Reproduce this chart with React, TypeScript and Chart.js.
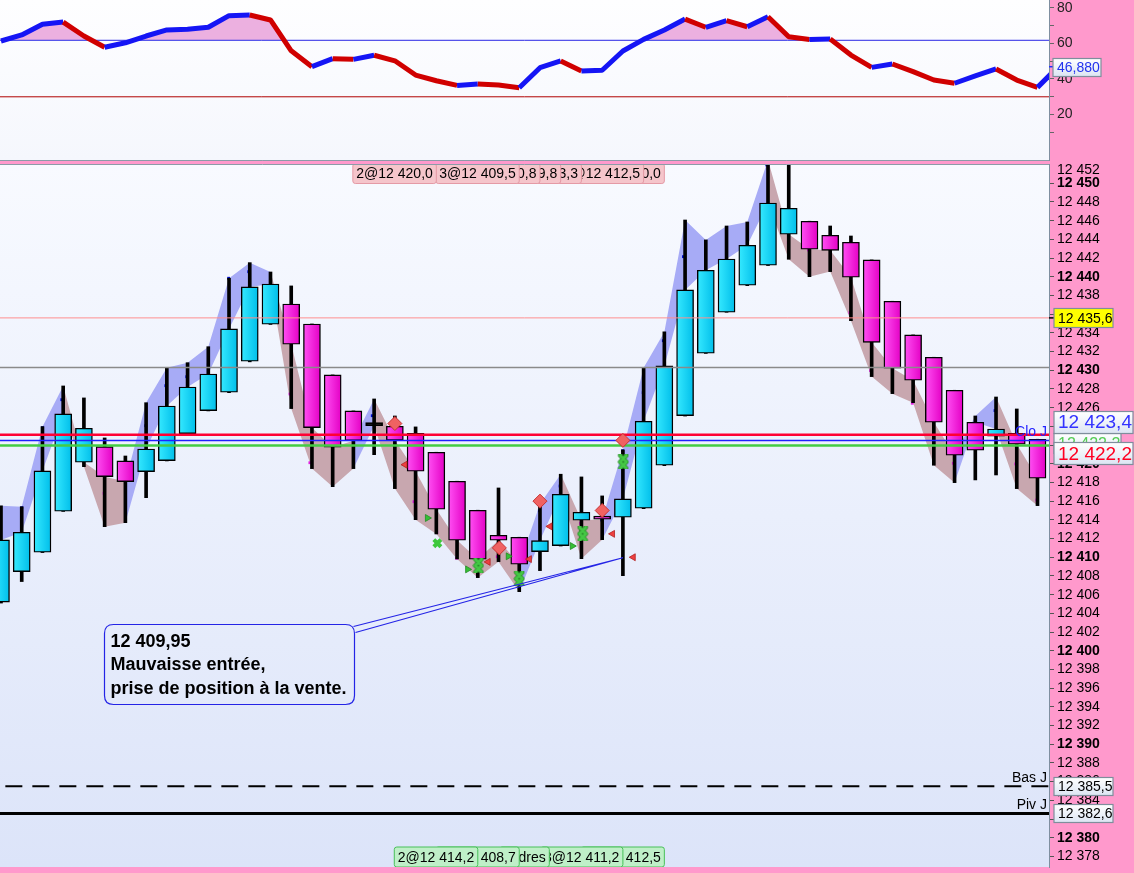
import React, { useEffect, useRef } from 'react';
import { Chart, registerables } from 'chart.js';

Chart.register(...registerables);

const FONT = '"Liberation Sans", Arial, Helvetica, sans-serif';
const PINK = '#FF99CC';

// ---------- candles (index 0..50) ----------
const opens = [12405.2, 12408.46, 12410.53, 12414.92, 12420.16, 12421.83, 12420.3, 12419.16, 12420.33, 12423.22, 12425.68, 12427.65, 12430.96, 12434.92, 12437.09, 12434.95, 12429.5, 12425.65, 12424.07, 12424.01, 12423.26, 12421.23, 12418.13, 12415.03, 12412.35, 12412.14, 12410.6, 12411.24, 12413.96, 12414.39, 12414.28, 12415.24, 12419.84, 12425.14, 12431.82, 12436.2, 12439.09, 12441.23, 12444.55, 12445.94, 12444.44, 12443.69, 12441.8, 12437.38, 12433.78, 12431.39, 12427.86, 12424.44, 12422.94, 12423.26, 12422.62];
const highs = [12415.5, 12415.4, 12423.97, 12428.32, 12427.04, 12422.76, 12420.83, 12426.53, 12430.28, 12430.81, 12432.52, 12439.84, 12441.51, 12440.51, 12439.02, 12434.95, 12429.5, 12425.65, 12426.93, 12425.11, 12423.94, 12421.23, 12418.13, 12415.03, 12417.41, 12412.14, 12415.7, 12418.88, 12418.59, 12416.56, 12421.48, 12430.28, 12434.1, 12446.07, 12443.94, 12445.43, 12445.86, 12452.5, 12452.5, 12445.94, 12445.43, 12444.36, 12441.8, 12437.38, 12433.78, 12431.39, 12427.86, 12425.11, 12427.14, 12425.86, 12422.62];
const lows = [12405.1, 12407.4, 12410.5, 12414.9, 12419.69, 12413.27, 12413.7, 12416.37, 12420.3, 12423.2, 12425.65, 12427.6, 12430.9, 12434.9, 12425.9, 12419.48, 12417.55, 12419.48, 12420.97, 12417.34, 12414.02, 12412.49, 12409.82, 12407.82, 12409.53, 12406.32, 12408.57, 12411.2, 12409.85, 12411.88, 12408.03, 12415.2, 12419.8, 12425.1, 12431.8, 12436.2, 12439.05, 12441.2, 12441.87, 12440.01, 12440.55, 12435.3, 12429.32, 12427.5, 12426.53, 12419.84, 12417.98, 12418.27, 12418.8, 12417.34, 12415.52];
const closes = [12411.85, 12412.67, 12419.23, 12425.33, 12423.8, 12418.62, 12418.09, 12421.58, 12426.18, 12428.21, 12429.6, 12434.42, 12438.91, 12439.23, 12432.78, 12423.86, 12421.76, 12422.47, 12424.07, 12422.51, 12419.2, 12415.13, 12411.82, 12409.79, 12411.82, 12409.25, 12411.78, 12416.74, 12414.81, 12414.06, 12416.24, 12424.55, 12430.46, 12438.59, 12440.7, 12441.9, 12443.37, 12447.89, 12447.33, 12442.94, 12442.83, 12439.95, 12432.99, 12430.21, 12428.93, 12424.44, 12420.91, 12421.44, 12423.72, 12422.09, 12418.45];
// trend state of the shaded ribbon at each candle (1 = up / blue, -1 = down / brown)
const ribbonState = [1, 1, 1, 1, -1, -1, -1, 1, 1, 1, 1, 1, 1, 1, -1, -1, -1, -1, 1, -1, -1, -1, -1, -1, -1, -1, 1, 1, -1, -1, 1, 1, 1, 1, 1, 1, 1, 1, -1, -1, -1, -1, -1, -1, -1, -1, -1, 1, 1, -1, -1];

// small trailing-stop dots
const stopUpDots = [{ x: 1, y: 12415.3 }, { x: 2, y: 12423.86 }, { x: 2.93, y: 12426.85 }, { x: 6, y: 12420.54 }, { x: 6.98, y: 12424.07 }, { x: 7.95, y: 12428.35 }, { x: 8.96, y: 12429.31 }, { x: 10, y: 12430.56 }, { x: 10.98, y: 12439.84 }, { x: 11.95, y: 12440.54 }, { x: 17.91, y: 12425.14 }, { x: 25.97, y: 12414.98 }, { x: 26.97, y: 12417.62 }, { x: 28.98, y: 12413.98 }, { x: 29.99, y: 12421.4 }, { x: 30.98, y: 12427.6 }, { x: 31.95, y: 12433.16 }, { x: 32.92, y: 12442.15 }, { x: 35, y: 12444.65 }, { x: 36.94, y: 12451.96 }, { x: 47.95, y: 12425.68 }];
const stopDownDots = [{ x: 4.97, y: 12416.84 }, { x: 13.94, y: 12427.46 }, { x: 14.9, y: 12420.11 }, { x: 19.92, y: 12415.94 }, { x: 21.02, y: 12412.63 }, { x: 21.98, y: 12409.89 }, { x: 23.94, y: 12410.06 }, { x: 27.96, y: 12413.63 }, { x: 37.98, y: 12443.65 }, { x: 38.95, y: 12442.87 }, { x: 40.95, y: 12436.16 }, { x: 41.95, y: 12429.96 }, { x: 43.96, y: 12426.47 }, { x: 44.98, y: 12422.19 }, { x: 45.94, y: 12420.05 }, { x: 48.95, y: 12419.98 }, { x: 49.96, y: 12416.12 }];

// ---------- oscillator (index 0..51) ----------
const rsiValues = [61.3, 64.7, 70.7, 71.9, 64.1, 57.8, 60.3, 64.1, 67.5, 67.9, 69.0, 75.5, 75.9, 73.1, 55.8, 46.9, 51.4, 51.0, 53.3, 50.2, 42.2, 39.0, 36.4, 37.2, 36.6, 35.1, 46.3, 50.1, 44.5, 44.9, 55.7, 62.2, 67.5, 73.6, 69.0, 72.7, 69.3, 74.9, 63.7, 62.2, 62.4, 53.4, 46.5, 48.4, 44.1, 39.4, 37.6, 41.7, 45.6, 39.4, 35.3, 46.88];
const rsiHigh = 61.7;
const rsiLow = 30;
const rsiTickLabels = [20, 40, 60, 80];

// ---------- horizontal levels ----------
const levelPrices = [12435.6, 12430.3, 12423.1, 12422.5, 12421.95, 12385.5, 12382.6];
const levelColors = ['#FF8F8F', '#8A8A8A', '#FF0033', '#2020FF', '#44CC44', '#000000', '#000000'];
const levelWidths = [1, 1.5, 2.5, 1.5, 2.5, 2, 3];
const levelNames = ['', '', '', 'Clo J', '', 'Bas J', 'Piv J'];

// ---------- axis value tags ----------
const tagYellow = 12435.6;
const tagBlue = 12423.4;
const tagGreen = 12422.2;
const tagRed = 12422.2;
const topPriceTick = 12452;

// ---------- signals ----------
const sellDiamonds = [{ x: 19, y: 12424.3 }, { x: 24.04, y: 12411.0 }, { x: 26, y: 12416.0 }, { x: 29, y: 12415.0 }, { x: 30, y: 12422.5 }];
const redTriangles = [{ x: 19.49, y: 12419.9 }, { x: 23.5, y: 12409.5 }, { x: 25.49, y: 12409.8 }, { x: 26.48, y: 12413.3 }, { x: 29.5, y: 12412.5 }, { x: 30.5, y: 12410.0 }];
const greenTriangles = [{ x: 20.57, y: 12414.2 }, { x: 22.51, y: 12408.7 }, { x: 24.47, y: 12410.1 }, { x: 27.56, y: 12411.2 }];
const greenCrosses = [{ x: 21.05, y: 12411.5 }];
const greenClovers = [{ x: 23.03, y: 12409.1 }, { x: 25, y: 12407.7 }, { x: 28.06, y: 12412.5 }, { x: 30.02, y: 12420.2 }];

// ---------- trade tags (right edge at candle index) ----------
const sellTagIdx = [21, 25, 26, 27, 28, 31, 32];
const sellTagText = ['2@12 420,0', '3@12 409,5', '2@12 410,8', '2@12 409,8', '2@12 413,3', '2@12 412,5', '2@12 410,0'];
const buyTagIdx = [23, 25, 26.45, 30, 32];
const buyTagText = ['2@12 414,2', '2@12 408,7', 'Ordres', '3@12 411,2', '2@12 412,5'];

// ---------- note ----------
const noteIdx = 30;
const notePrice = 12409.95;
const noteLines = ['12 409,95', 'Mauvaisse entrée,', 'prise de position à la vente.'];

const X_MIN = -0.048;
const X_MAX = 50.555;

const fmtInt = (v: number) => {
  const n = Math.round(v);
  return `${Math.floor(n / 1000)} ${String(n % 1000).padStart(3, '0')}`;
};
const fmtDec = (v: number, d: number) => {
  const s = v.toFixed(d);
  const [ip, dp] = s.split('.');
  return `${ip.slice(0, ip.length - 3)} ${ip.slice(-3)},${dp}`;
};

function roundRect(ctx: any, x: number, y: number, w: number, h: number, r: number) {
  ctx.beginPath();
  ctx.moveTo(x + r, y);
  ctx.lineTo(x + w - r, y);
  ctx.quadraticCurveTo(x + w, y, x + w, y + r);
  ctx.lineTo(x + w, y + h - r);
  ctx.quadraticCurveTo(x + w, y + h, x + w - r, y + h);
  ctx.lineTo(x + r, y + h);
  ctx.quadraticCurveTo(x, y + h, x, y + h - r);
  ctx.lineTo(x, y + r);
  ctx.quadraticCurveTo(x, y, x + r, y);
  ctx.closePath();
}

function axisTag(ctx: any, left: number, cy: number, w: number, h: number, text: string, font: string, color: string, fill?: string) {
  if (!Number.isFinite(cy)) return;
  const top = Math.round(cy - h / 2) + 0.5;
  if (fill) {
    ctx.fillStyle = fill;
  } else {
    const g = ctx.createLinearGradient(0, top, 0, top + h);
    g.addColorStop(0, '#FFFFFF');
    g.addColorStop(1, '#DCE5F3');
    ctx.fillStyle = g;
  }
  ctx.fillRect(left, top, w, h);
  ctx.strokeStyle = '#7F8E9C';
  ctx.lineWidth = 1.2;
  ctx.strokeRect(left, top, w, h);
  ctx.fillStyle = color;
  ctx.font = font;
  ctx.textAlign = 'left';
  ctx.textBaseline = 'middle';
  ctx.fillText(text, left + 4, cy + 1);
}

function makeClover() {
  const c = document.createElement('canvas');
  c.width = 12;
  c.height = 15;
  const g = c.getContext('2d') as CanvasRenderingContext2D;
  const drawX = (cx: number, cy: number, color: string, lw: number) => {
    g.strokeStyle = color;
    g.lineWidth = lw;
    g.lineCap = 'round';
    g.beginPath();
    g.moveTo(cx - 3, cy - 3);
    g.lineTo(cx + 3, cy + 3);
    g.moveTo(cx + 3, cy - 3);
    g.lineTo(cx - 3, cy + 3);
    g.stroke();
  };
  drawX(6, 4.2, '#2B8F2B', 4.4);
  drawX(6, 10.8, '#2B8F2B', 4.4);
  drawX(6, 4.2, '#45C845', 2.8);
  drawX(6, 10.8, '#45C845', 2.8);
  return c;
}

export default function App() {
  const rsiRef = useRef<HTMLCanvasElement | null>(null);
  const mainRef = useRef<HTMLCanvasElement | null>(null);

  useEffect(() => {
    document.body.style.margin = '0';
    const idx = opens.map((_, i) => i);
    const rsiIdx = rsiValues.map((_, i) => i);

    // ================= oscillator panel =================
    const rsiDecor = {
      id: 'rsiDecor',
      beforeDraw(chart: any) {
        const { ctx, chartArea: a } = chart;
        if (!a) return;
        ctx.save();
        ctx.fillStyle = PINK;
        ctx.fillRect(0, 0, chart.width, chart.height);
        const g = ctx.createLinearGradient(0, a.top, 0, a.bottom);
        g.addColorStop(0, '#FEFEFF');
        g.addColorStop(1, '#F5F7FD');
        ctx.fillStyle = g;
        ctx.fillRect(a.left, a.top, a.right - a.left, a.bottom - a.top);
        ctx.restore();
      },
      afterDraw(chart: any) {
        const { ctx, chartArea: a, scales } = chart;
        ctx.save();
        ctx.strokeStyle = '#8C9AA8';
        ctx.lineWidth = 1;
        ctx.beginPath();
        ctx.moveTo(a.left, a.bottom + 0.5);
        ctx.lineTo(a.right, a.bottom + 0.5);
        ctx.stroke();
        const last = rsiValues[rsiValues.length - 1];
        const y = scales.y.getPixelForValue(last);
        ctx.strokeStyle = '#2030FF';
        ctx.lineWidth = 1.5;
        ctx.beginPath();
        ctx.moveTo(a.right, y);
        ctx.lineTo(a.right + 5, y);
        ctx.stroke();
        axisTag(ctx, a.right + 4, y, 48, 18, last.toFixed(3).replace('.', ','), `14px ${FONT}`, '#2233EE');
        ctx.restore();
      },
    };

    const rsiChart = new Chart(rsiRef.current as HTMLCanvasElement, {
      type: 'line',
      data: {
        datasets: [
          {
            data: rsiIdx.map((i) => ({ x: i, y: rsiValues[i] })),
            borderWidth: 0,
            pointRadius: 0,
            fill: { target: { value: rsiHigh }, above: '#ECB0E0', below: 'rgba(0,0,0,0)' },
            order: 10,
            clip: 0,
          } as any,
          {
            data: [{ x: -5, y: rsiHigh }, { x: 60, y: rsiHigh }],
            borderColor: '#2A2AE6',
            borderWidth: 1,
            pointRadius: 0,
            fill: false,
            order: 8,
            clip: 0,
          },
          {
            data: [{ x: -5, y: rsiLow }, { x: 60, y: rsiLow }],
            borderColor: '#B00000',
            borderWidth: 1,
            pointRadius: 0,
            fill: false,
            order: 8,
            clip: 0,
          },
          {
            data: rsiIdx.map((i) => ({ x: i, y: rsiValues[i] })),
            borderWidth: 5,
            borderColor: '#1515F5',
            pointRadius: 0,
            fill: false,
            borderJoinStyle: 'bevel',
            segment: {
              borderColor: (c: any) => (c.p1.parsed.y >= c.p0.parsed.y ? '#1515F5' : '#D00000'),
            },
            order: 1,
            clip: 0,
          } as any,
        ],
      },
      options: {
        responsive: false,
        animation: false,
        devicePixelRatio: 1,
        events: [],
        layout: { autoPadding: false, padding: { left: 0, right: 0, top: 0, bottom: 2 } },
        plugins: { legend: { display: false }, tooltip: { enabled: false } },
        scales: {
          x: { type: 'linear', min: X_MIN, max: X_MAX, display: false, offset: false },
          y: {
            position: 'right',
            min: -5.45,
            max: 84.3,
            afterFit: (s: any) => {
              s.width = 85;
              s.paddingTop = 0;
              s.paddingBottom = 0;
            },
            ticks: {
              stepSize: 10,
              includeBounds: false,
              autoSkip: false,
              padding: 3,
              color: '#222',
              font: { family: FONT, size: 14 },
              callback: (v: any) => (rsiTickLabels.includes(Number(v)) ? String(v) : ''),
            },
            grid: {
              drawOnChartArea: false,
              drawTicks: true,
              tickLength: 5,
              color: (c: any) => (c.tick && c.tick.value > 0 ? '#666' : 'rgba(0,0,0,0)'),
            },
            border: { display: true, color: '#7F8FA0', width: 1 },
          },
        } as any,
      },
      plugins: [rsiDecor],
    } as any);

    // ================= price panel =================
    const bodyFill = (c: any) => {
      const i = c.dataIndex;
      const xs = c.chart.scales && c.chart.scales.x;
      if (i === undefined || !xs) return '#00D0F0';
      const o = opens[i];
      const cl = closes[i];
      if (cl === o) return '#000';
      const x = xs.getPixelForValue(i);
      if (!Number.isFinite(x)) return cl > o ? '#1AD8F8' : '#F528E0';
      const g = c.chart.ctx.createLinearGradient(x - 8.5, 0, x + 8.5, 0);
      if (cl > o) {
        g.addColorStop(0, '#36E9FF');
        g.addColorStop(1, '#00BEEA');
      } else {
        g.addColorStop(0, '#FF50F3');
        g.addColorStop(1, '#E400C5');
      }
      return g;
    };

    const ribbonUpper = idx.map((i) => (ribbonState[i] > 0 ? highs[i] : Math.min(opens[i], closes[i])));
    const ribbonLower = idx.map((i) => (ribbonState[i] > 0 ? Math.max(opens[i], closes[i]) : lows[i]));
    const RIB_UP = '#A7ABF6';
    const RIB_DN = '#C8A7AF';

    const levelSets = levelPrices.map((p, k) => ({
      type: 'line',
      data: [{ x: -5, y: p }, { x: 60, y: p }],
      borderColor: levelColors[k],
      borderWidth: levelWidths[k],
      borderDash: k === 5 ? [17, 10] : [],
      pointRadius: 0,
      fill: false,
      order: 10,
      clip: 0,
    }));

    const clover = makeClover();

    const mainDecor = {
      id: 'mainDecor',
      beforeDraw(chart: any) {
        const { ctx, chartArea: a } = chart;
        if (!a) return;
        ctx.save();
        ctx.fillStyle = PINK;
        ctx.fillRect(0, 0, chart.width, chart.height);
        const g = ctx.createLinearGradient(0, a.top, 0, a.bottom);
        g.addColorStop(0, '#F8FAFF');
        g.addColorStop(1, '#DCE4F9');
        ctx.fillStyle = g;
        ctx.fillRect(a.left, a.top, a.right - a.left, a.bottom - a.top);
        ctx.restore();
      },
      afterDatasetsDraw(chart: any) {
        const { ctx, chartArea: a, scales } = chart;
        const xs = scales.x;
        const ys = scales.y;
        ctx.save();
        ctx.beginPath();
        ctx.rect(a.left, a.top, a.right - a.left, a.bottom - a.top);
        ctx.clip();

        // level names
        ctx.font = `14px ${FONT}`;
        ctx.textAlign = 'right';
        ctx.textBaseline = 'alphabetic';
        levelPrices.forEach((p, k) => {
          if (!levelNames[k]) return;
          ctx.fillStyle = k === 3 ? '#2222FF' : '#000';
          ctx.fillText(levelNames[k], a.right - 2, ys.getPixelForValue(p) - 4);
        });

        // note callout
        const tx = xs.getPixelForValue(noteIdx);
        const ty = ys.getPixelForValue(notePrice);
        const bl = a.left + 104.5;
        const bt = a.top + 460.5;
        const bw = 250;
        const bh = 80;
        ctx.strokeStyle = '#2424E6';
        ctx.lineWidth = 1.2;
        roundRect(ctx, bl, bt, bw, bh, 9);
        ctx.stroke();
        ctx.beginPath();
        ctx.moveTo(bl + bw - 1, bt + 2);
        ctx.lineTo(tx, ty);
        ctx.lineTo(bl + bw + 1, bt + 8);
        ctx.stroke();
        ctx.fillStyle = '#000';
        ctx.font = `bold 18px ${FONT}`;
        ctx.textAlign = 'left';
        noteLines.forEach((t, k) => ctx.fillText(t, bl + 6, bt + 22 + k * 23.5));

        // trade tags
        const tag = (text: string, right: number, top: number, h: number, fill: string, stroke: string) => {
          ctx.font = `14px ${FONT}`;
          const w = ctx.measureText(text).width + 7;
          const left = right - w;
          roundRect(ctx, left, top, w, h, 2.5);
          ctx.fillStyle = fill;
          ctx.fill();
          ctx.strokeStyle = stroke;
          ctx.lineWidth = 1;
          ctx.stroke();
          ctx.fillStyle = '#000';
          ctx.textAlign = 'left';
          ctx.textBaseline = 'middle';
          ctx.fillText(text, left + 3.5, top + h / 2 + 1);
        };
        for (let k = sellTagIdx.length - 1; k >= 0; k--) {
          tag(sellTagText[k], xs.getPixelForValue(sellTagIdx[k]), a.top - 0.5, 20, '#F5C5CB', '#E49AA6');
        }
        for (let k = buyTagIdx.length - 1; k >= 0; k--) {
          tag(buyTagText[k], xs.getPixelForValue(buyTagIdx[k]), a.bottom - 20, 20, '#BFEFC8', '#48C058');
        }
        ctx.restore();

        // panel border
        ctx.save();
        ctx.strokeStyle = '#8C9AA8';
        ctx.lineWidth = 1;
        ctx.beginPath();
        ctx.moveTo(a.left, a.top + 0.5);
        ctx.lineTo(a.right, a.top + 0.5);
        ctx.stroke();
        ctx.restore();
      },
      afterDraw(chart: any) {
        const { ctx, chartArea: a, scales } = chart;
        const ys = scales.y;
        ctx.save();
        // top tick label kept inside the panel
        ctx.fillStyle = '#000';
        ctx.font = `14px ${FONT}`;
        ctx.textAlign = 'left';
        ctx.textBaseline = 'middle';
        ctx.fillText(fmtInt(topPriceTick), a.right + 8, ys.getPixelForValue(topPriceTick) + 6);

        const L = a.right + 5;
        const yy = ys.getPixelForValue(tagYellow);
        ctx.strokeStyle = '#000';
        ctx.lineWidth = 1.5;
        ctx.beginPath();
        ctx.moveTo(a.right, yy);
        ctx.lineTo(a.right + 6, yy);
        ctx.stroke();
        axisTag(ctx, L, yy, 59, 19, fmtDec(tagYellow, 1), `14px ${FONT}`, '#000', '#FFFF00');
        axisTag(ctx, L, ys.getPixelForValue(levelPrices[5]), 59, 18, fmtDec(levelPrices[5], 1), `14px ${FONT}`, '#000');
        axisTag(ctx, L, ys.getPixelForValue(levelPrices[6]), 59, 18, fmtDec(levelPrices[6], 1), `14px ${FONT}`, '#000');
        axisTag(ctx, L, ys.getPixelForValue(tagGreen), 67, 20, fmtDec(tagGreen, 1), `16px ${FONT}`, '#55CC55');
        axisTag(ctx, L, ys.getPixelForValue(tagBlue) - 10.3, 79, 22, fmtDec(tagBlue, 1), `19px ${FONT}`, '#3333FF');
        axisTag(ctx, L, ys.getPixelForValue(tagRed) + 10.2, 79, 22, fmtDec(tagRed, 1), `19px ${FONT}`, '#FF0022');
        ctx.restore();
      },
    };

    const mainChart = new Chart(mainRef.current as HTMLCanvasElement, {
      type: 'bar',
      data: {
        datasets: [
          {
            type: 'line',
            data: idx.map((i) => ({ x: i, y: ribbonUpper[i] })),
            borderWidth: 0,
            pointRadius: 0,
            fill: false,
            order: 20,
            clip: 0,
          },
          {
            type: 'line',
            data: idx.map((i) => ({ x: i, y: ribbonLower[i] })),
            borderWidth: 0,
            pointRadius: 0,
            fill: '-1',
            backgroundColor: RIB_UP,
            segment: { backgroundColor: (c: any) => (ribbonState[c.p1DataIndex] > 0 ? RIB_UP : RIB_DN) },
            order: 19,
            clip: 0,
          },
          {
            type: 'scatter',
            data: stopUpDots,
            pointStyle: 'rect',
            radius: 2,
            backgroundColor: '#0010D0',
            borderWidth: 0,
            order: 18,
            clip: 0,
          },
          {
            type: 'scatter',
            data: stopDownDots,
            pointStyle: 'rect',
            radius: 2,
            backgroundColor: '#E020E0',
            borderWidth: 0,
            order: 18,
            clip: 0,
          },
          {
            type: 'bar',
            data: idx.map((i) => ({ x: i, y: [lows[i], highs[i]] })),
            backgroundColor: '#000',
            borderWidth: 0,
            barThickness: 3,
            grouped: false,
            order: 15,
          },
          {
            type: 'bar',
            data: idx.map((i) => ({ x: i, y: [opens[i], closes[i]] })),
            backgroundColor: bodyFill,
            borderColor: '#000',
            borderWidth: 1.4,
            borderSkipped: false,
            barThickness: 17,
            minBarLength: 3,
            grouped: false,
            order: 14,
          },
          ...levelSets,
          {
            type: 'scatter',
            data: greenTriangles,
            pointStyle: 'triangle',
            rotation: 90,
            radius: 4,
            backgroundColor: '#35C035',
            borderColor: '#238A23',
            borderWidth: 0.8,
            order: 4,
            clip: 0,
          },
          {
            type: 'scatter',
            data: redTriangles,
            pointStyle: 'triangle',
            rotation: -90,
            radius: 4,
            backgroundColor: '#EE4040',
            borderColor: '#B02020',
            borderWidth: 0.8,
            order: 4,
            clip: 0,
          },
          {
            type: 'scatter',
            data: greenCrosses,
            pointStyle: 'crossRot',
            radius: 5,
            borderColor: '#3CC83C',
            borderWidth: 4,
            order: 3,
            clip: 0,
          },
          {
            type: 'scatter',
            data: greenClovers,
            pointStyle: clover,
            order: 3,
            clip: 0,
          },
          {
            type: 'scatter',
            data: sellDiamonds,
            pointStyle: 'rectRot',
            radius: 7,
            backgroundColor: '#F06262',
            borderColor: '#C83232',
            borderWidth: 1,
            order: 2,
            clip: 0,
          },
        ] as any,
      },
      options: {
        responsive: false,
        animation: false,
        devicePixelRatio: 1,
        events: [],
        layout: { autoPadding: false, padding: { left: 0, right: 0, top: 2, bottom: 6 } },
        plugins: { legend: { display: false }, tooltip: { enabled: false } },
        scales: {
          x: { type: 'linear', min: X_MIN, max: X_MAX, display: false, offset: false },
          y: {
            position: 'right',
            min: 12376.87,
            max: 12452.06,
            afterFit: (s: any) => {
              s.width = 85;
              s.paddingTop = 0;
              s.paddingBottom = 0;
            },
            ticks: {
              stepSize: 2,
              includeBounds: false,
              autoSkip: false,
              padding: 3,
              color: '#000',
              font: (c: any) => ({
                family: FONT,
                size: 14,
                weight: c.tick && Math.round(c.tick.value) % 10 === 0 ? 'bold' : 'normal',
              }),
              callback: (v: any) => (Math.round(Number(v)) === topPriceTick ? '' : fmtInt(Number(v))),
            },
            grid: {
              drawOnChartArea: false,
              drawTicks: true,
              tickLength: 5,
              color: (c: any) => (c.tick && Math.round(c.tick.value) === topPriceTick ? 'rgba(0,0,0,0)' : '#555'),
            },
            border: { display: true, color: '#7F8FA0', width: 1 },
          },
        } as any,
      },
      plugins: [mainDecor],
    } as any);

    return () => {
      rsiChart.destroy();
      mainChart.destroy();
    };
  }, []);

  return (
    <div style={{ position: 'fixed', left: 0, top: 0, width: 1134, height: 873, background: PINK, overflow: 'hidden' }}>
      <canvas ref={rsiRef} width={1134} height={162} style={{ position: 'absolute', left: 0, top: 0, width: 1134, height: 162 }} />
      <canvas ref={mainRef} width={1134} height={711} style={{ position: 'absolute', left: 0, top: 162, width: 1134, height: 711 }} />
    </div>
  );
}
